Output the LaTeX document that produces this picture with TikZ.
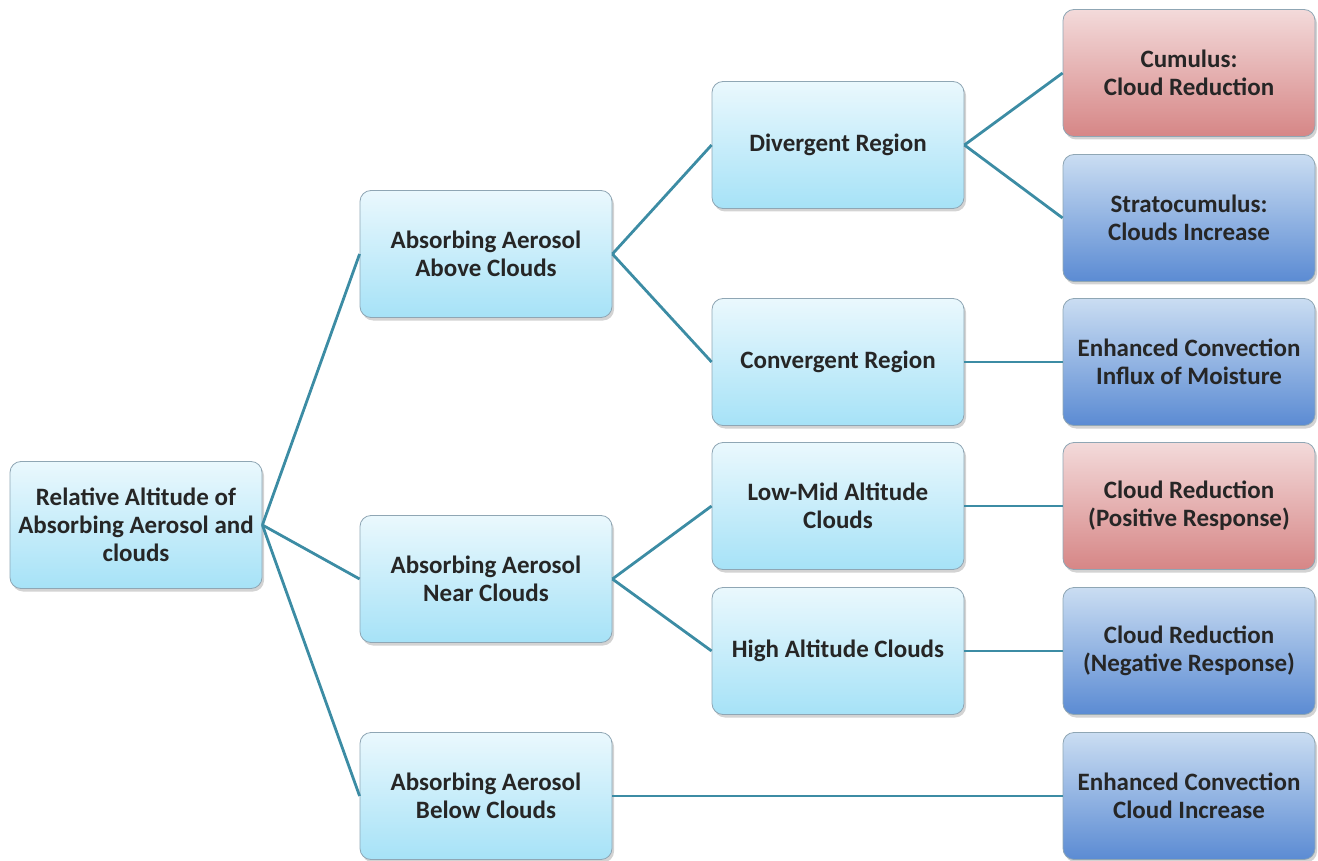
\documentclass[tikz,border=0pt]{standalone}
\usepackage{fontspec}
\setmainfont{Carlito}
\usetikzlibrary{shadows}
\definecolor{linkcol}{HTML}{3C8CA4}
\definecolor{cyantop}{HTML}{EAF8FD}
\definecolor{cyanbot}{HTML}{A6E2F7}
\definecolor{redtop}{HTML}{F3DADA}
\definecolor{redbot}{HTML}{D68686}
\definecolor{bluetop}{HTML}{CADDF2}
\definecolor{bluebot}{HTML}{5B8BD3}
\definecolor{edgecol}{HTML}{8FA6B4}
\tikzset{
  box/.style={rounded corners=11pt, draw=edgecol, line width=0.8pt,
    minimum width=252pt, minimum height=127pt, align=center,
    font=\fontsize{25}{28}\selectfont\bfseries, text=black!85,
    drop shadow={shadow xshift=2pt, shadow yshift=-3pt, opacity=0.35}},
  cyanbox/.style={box, top color=cyantop, bottom color=cyanbot},
  redbox/.style={box, top color=redtop, bottom color=redbot},
  bluebox/.style={box, top color=bluetop, bottom color=bluebot},
  link/.style={draw=linkcol, line width=2.8pt}
}
\begin{document}
\begin{tikzpicture}[x=1pt,y=-1pt]
		\useasboundingbox (0,0) rectangle (1318,861);
		% first and second column
		\node[cyanbox] (root) at (136,525) {Relative Altitude of\\Absorbing Aerosol and\\clouds};
		\node[cyanbox] (above) at (486,254) {Absorbing Aerosol\\Above Clouds};
		\node[cyanbox] (near) at (486,579) {Absorbing Aerosol\\Near Clouds};
		\node[cyanbox] (below) at (486,796) {Absorbing Aerosol\\Below Clouds};
		% third column
		\node[cyanbox] (diverg) at (838,145) {Divergent Region};
		\node[cyanbox] (converg) at (838,362) {Convergent Region};
		\node[cyanbox] (lowmid) at (838,506) {Low-Mid Altitude\\Clouds};
		\node[cyanbox] (high) at (838,651) {High Altitude Clouds};
		% responses
		\node[redbox] (cumulus) at (1189,73) {Cumulus:\\Cloud Reduction};
		\node[bluebox] (strato) at (1189,218) {Stratocumulus:\\Clouds Increase};
		\node[bluebox] (influx) at (1189,362) {Enhanced Convection\\Influx of Moisture};
		\node[redbox] (posresp) at (1189,506) {Cloud Reduction\\(Positive Response)};
		\node[bluebox] (negresp) at (1189,651) {Cloud Reduction\\(Negative Response)};
		\node[bluebox] (increase) at (1189,796) {Enhanced Convection\\Cloud Increase};
		% connectors
		\draw[link] (root.east) -- (above.west);
		\draw[link] (root.east) -- (near.west);
		\draw[link] (root.east) -- (below.west);
		\draw[link] (above.east) -- (diverg.west);
		\draw[link] (above.east) -- (converg.west);
		\draw[link] (near.east) -- (lowmid.west);
		\draw[link] (near.east) -- (high.west);
		\draw[link] (below.east) -- (increase.west);
		\draw[link] (diverg.east) -- (cumulus.west);
		\draw[link] (diverg.east) -- (strato.west);
		\draw[link] (converg.east) -- (influx.west);
		\draw[link] (lowmid.east) -- (posresp.west);
		\draw[link] (high.east) -- (negresp.west);
	\end{tikzpicture}
\end{document}
